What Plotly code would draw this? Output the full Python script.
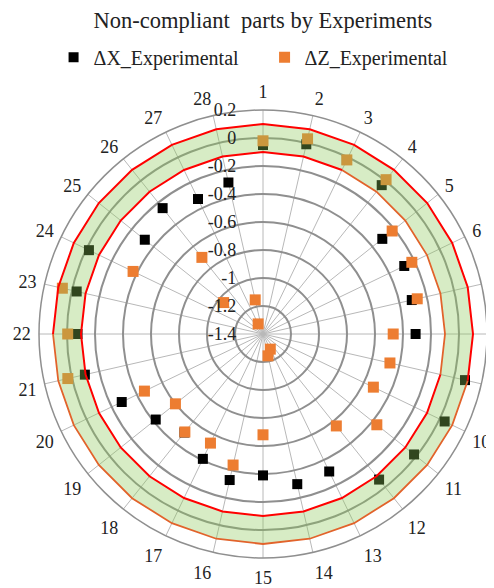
import plotly.graph_objects as go

categories = ["1", "2", "3", "4", "5", "6", "7", "8", "9", "10", "11", "12", "13", "14",
              "15", "16", "17", "18", "19", "20", "21", "22", "23", "24", "25", "26", "27", "28"]

dx_experimental = [-0.05, -0.01, -0.02, -0.04, -0.31, -0.28, -0.31, -0.31, 0.08, 0.04,
                   -0.02, -0.07, -0.31, -0.30, -0.39, -0.33, -0.41, -0.50, -0.42, -0.28,
                   -0.095, -0.075, -0.035, -0.02, -0.32, -0.25, -0.33, -0.29]

dz_experimental = [-0.02, 0.03, -0.02, 0.01, -0.22, -0.22, -0.27, -0.47, -0.47, -0.525,
                   -0.36, -0.56, -1.28, -1.24, -0.68, -0.44, -0.535, -0.505, -0.60, -0.46,
                   0.03, -0.005, 0.07, -0.37, -1.04, -0.70, -1.32, -1.15]

upper_tol = 0.1
lower_tol = -0.1

radial_ticks = [-1.4, -1.2, -1.0, -0.8, -0.6, -0.4, -0.2, 0.0, 0.2]
radial_ticktext = ["-1.4", "-1.2", "-1", "-0.8", "-0.6", "-0.4", "-0.2", "0", "0.2"]

FONT = "Liberation Serif"
n = len(categories)
step = 360.0 / n
theta_of = {c: i * step for i, c in enumerate(categories)}
cat_theta = [theta_of[c] for c in categories]

fig = go.Figure()

fig.add_trace(go.Scatterpolar(
    r=dx_experimental, theta=cat_theta, mode="markers", name="ΔX_Experimental",
    marker=dict(symbol="square", size=10, color="#000000"),
))
fig.add_trace(go.Scatterpolar(
    r=dz_experimental, theta=cat_theta, mode="markers", name="ΔZ_Experimental",
    marker=dict(symbol="square", size=11, color="#ED7D31"),
))

# tolerance band (semi-transparent, drawn over markers)
band_theta = cat_theta + [cat_theta[0]] + [cat_theta[0]] + cat_theta[::-1]
band_r = [upper_tol] * (n + 1) + [lower_tol] * (n + 1)
fig.add_trace(go.Scatterpolar(
    r=band_r, theta=band_theta, mode="lines", fill="toself",
    fillcolor="rgba(140,200,90,0.35)", line=dict(width=0, color="rgba(0,0,0,0)"),
    showlegend=False, hoverinfo="skip",
))

def seg(idx_list, val, color, width):
    fig.add_trace(go.Scatterpolar(
        r=[val] * len(idx_list), theta=[cat_theta[i] for i in idx_list],
        mode="lines", line=dict(color=color, width=width),
        showlegend=False, hoverinfo="skip",
    ))

outer_red = list(range(21, 28)) + list(range(0, 9))
outer_orange = list(range(8, 22))
inner_red = list(range(8, 28)) + list(range(0, 3))
inner_orange = list(range(2, 9))
seg(outer_orange, upper_tol, "#E2632B", 1.8)
seg(outer_red, upper_tol, "#FF0000", 2)
seg(inner_orange, lower_tol, "#E2632B", 1.8)
seg(inner_red, lower_tol, "#FF0000", 2)

fig.update_layout(
    width=494, height=588,
    margin=dict(l=31, r=15, t=102, b=38),
    paper_bgcolor="white",
    font=dict(family=FONT, color="#222222", size=18),
    title=dict(text="Non-compliant  parts by Experiments", x=0.516, xanchor="center",
               y=0.9796, yanchor="middle", font=dict(family=FONT, size=22.5, color="#222222")),
    legend=dict(orientation="h", x=0.5035, xanchor="center", y=1.118, yanchor="middle",
                font=dict(family=FONT, size=20, color="#222222"),
                entrywidth=166, entrywidthmode="pixels"),
    polar=dict(
        bgcolor="white",
        gridshape="linear",
        domain=dict(x=[0, 1], y=[0, 1]),
        radialaxis=dict(
            range=[-1.4, 0.2], tickvals=radial_ticks, ticktext=radial_ticktext,
            angle=90, tickangle=90, side="counterclockwise",
            showline=False, ticks="outside", ticklen=20, tickcolor="rgba(0,0,0,0)",
            gridcolor="#8f8f8f", gridwidth=1.5,
            tickfont=dict(family=FONT, size=18, color="#222222"),
        ),
        angularaxis=dict(
            rotation=90, direction="clockwise", thetaunit="degrees",
            tickvals=cat_theta, ticktext=categories,
            showline=True, linecolor="#8f8f8f", linewidth=1.5,
            gridcolor="#b8b8b8", gridwidth=1,
            ticks="outside", ticklen=4, tickcolor="rgba(0,0,0,0)",
            tickfont=dict(family=FONT, size=18, color="#222222"),
        ),
    ),
)

fig.write_html("out.html")
